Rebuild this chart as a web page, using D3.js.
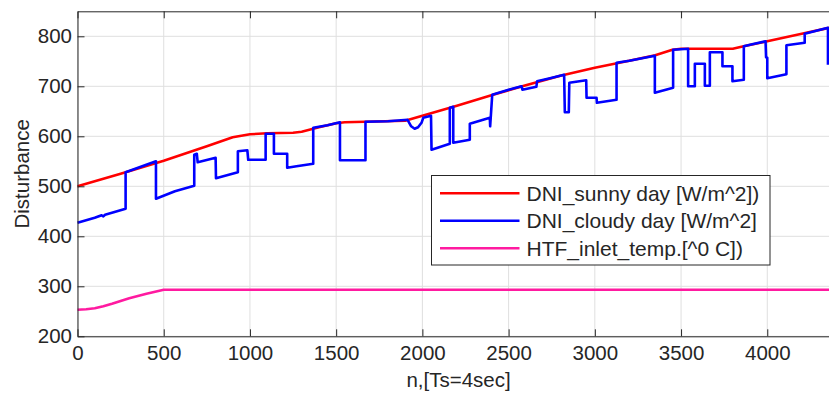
<!DOCTYPE html>
<html>
<head>
<meta charset="utf-8">
<script src="https://cdn.jsdelivr.net/npm/d3@7"></script>
<style>
  body { margin: 0; background: #fff; }
  svg { display: block; font-family: "Liberation Sans", Arial, sans-serif; }
</style>
</head>
<body>
<svg id="chart"></svg>
<script>
// values: [n, value]
const sunny = [[0,500],[250,525],[500,551],[750,580],[900,598],[1000,604],[1100,606],[1250,607],[1300,609],
  [1400,618],[1500,626],[1550,628],[1900,631],[2000,641],[2200,661],[2400,682],[2600,702],[2800,721],
  [3000,737],[3200,751],[3350,762],[3450,773],[3500,775],[3800,775],[3850,779],[4000,790],[4200,805],[4360,817]]

const cloudy = [[0,427],[100,437],[140,442],[150,440],[160,443],[279,455],[279,528],[455,550],[455,475],
  [565,490],[677,501],[677,563],[692,565],[697,548],[801,557],[803,516],[930,528],[930,570],[985,572],
  [990,553],[1091,553],[1091,605],[1139,605],[1139,565],[1216,565],[1216,537],[1270,540],[1367,545],
  [1367,617],[1450,622],[1522,628],[1522,552],[1670,552],[1670,629],[1800,630],[1914,633],[1935,620],
  [1955,615],[1975,618],[1995,627],[2005,637],[2050,641],[2053,573],[2159,585],[2159,657],[2179,659],
  [2179,587],[2275,593],[2275,625],[2391,637],[2393,620],[2405,683],[2500,693],[2575,700],[2580,693],
  [2661,699],[2665,710],[2740,716],[2822,723],[2826,648],[2849,648],[2852,707],[2950,712],[2952,677],
  [3010,677],[3012,667],[3126,673],[3126,747],[3200,751],[3348,761],[3348,687],[3454,697],[3454,773],
  [3541,775],[3541,700],[3580,700],[3580,745],[3638,745],[3638,701],[3667,701],[3667,768],[3740,768],
  [3740,740],[3798,740],[3798,710],[3864,713],[3864,780],[3900,783],[3990,790],[3993,758],[4000,757],
  [4000,716],[4111,724],[4111,782],[4217,787],[4217,805],[4352,817],[4352,743]]

const htf = [[0,253],[50,254],[100,256],[150,260],[200,265],[300,276],[400,285],[500,293],[4360,293]]

const xTicks = [0,500,1000,1500,2000,2500,3000,3500,4000]
const yTicks = [200,300,400,500,600,700,800]
const legendNames = ["DNI_sunny day [W/m^2])", "DNI_cloudy day [W/m^2]", "HTF_inlet_temp.[^0 C])"]
const colors = ["#ff0000", "#0000ff", "#ff1aa0"]

const width = 829, height = 393
const marginLeft = 77.5, marginTop = 11.3, plotBottom = 336.3
const fontSize = 20.5
const ink = "#262626"

const svg = d3.select("#chart").attr("width", width).attr("height", height)

const x = d3.scaleLinear([0, 4420], [marginLeft, 839.7])
const y = d3.scaleLinear([200, 850], [plotBottom, marginTop])

// grid
svg.append("g")
  .selectAll("line").data(xTicks).join("line")
    .attr("x1", d => x(d)).attr("x2", d => x(d))
    .attr("y1", marginTop).attr("y2", plotBottom)
    .attr("stroke", "#dfdfdf").attr("stroke-width", 1)
svg.append("g")
  .selectAll("line").data(yTicks).join("line")
    .attr("x1", marginLeft).attr("x2", width)
    .attr("y1", d => y(d)).attr("y2", d => y(d))
    .attr("stroke", "#dfdfdf").attr("stroke-width", 1)

// lines
const line = d3.line().x(d => x(d[0])).y(d => y(d[1]))
const series = [sunny, cloudy, htf]
svg.append("g")
  .attr("fill", "none")
  .attr("stroke-width", 2.6)
  .attr("stroke-linejoin", "round")
  .selectAll("path").data(series).join("path")
    .attr("stroke", (d, i) => colors[i])
    .attr("d", line)

// axes (MATLAB style: ticks pointing inward)
const yAxis = d3.axisLeft(y).tickValues(yTicks).tickSize(-7).tickPadding(5.5).tickSizeOuter(0)
const xAxis = d3.axisBottom(x).tickValues(xTicks).tickFormat(d3.format("d"))
  .tickSize(-7).tickPadding(9).tickSizeOuter(0)
const topAxis = d3.axisTop(x).tickValues(xTicks).tickSize(-7).tickFormat("").tickSizeOuter(0)

const styleAxis = g => {
  g.selectAll(".domain").attr("stroke", ink).attr("stroke-width", 1)
  g.selectAll(".tick line").attr("stroke", ink)
  g.selectAll(".tick text").attr("fill", ink).style("font-size", fontSize + "px")
}

svg.append("g").attr("transform", `translate(${marginLeft},0)`).call(yAxis).call(styleAxis)
svg.append("g").attr("transform", `translate(0,${plotBottom})`).call(xAxis).call(styleAxis)
svg.append("g").attr("transform", `translate(0,${marginTop})`).call(topAxis).call(styleAxis)

// axis labels
svg.append("text")
  .attr("x", (marginLeft + 839.7) / 2).attr("y", 387)
  .attr("text-anchor", "middle").attr("fill", ink)
  .style("font-size", fontSize + "px")
  .text("n,[Ts=4sec]")
svg.append("text")
  .attr("transform", `translate(29,${(marginTop + plotBottom) / 2}) rotate(-90)`)
  .attr("text-anchor", "middle").attr("fill", ink)
  .style("font-size", fontSize + "px")
  .text("Disturbance")

// legend
const legend = svg.append("g").attr("transform", "translate(431.5,175.5)")
legend.append("rect")
  .attr("width", 338.5).attr("height", 89.5)
  .attr("fill", "#fff").attr("stroke", ink).attr("stroke-width", 1)
const rows = legend.selectAll("g").data(legendNames).join("g")
  .attr("transform", (d, i) => `translate(0,${17.8 + i * 27.5})`)
rows.append("line")
  .attr("x1", 8.5).attr("x2", 88)
  .attr("stroke", (d, i) => colors[i]).attr("stroke-width", 2.6)
rows.append("text")
  .attr("x", 95).attr("dy", "0.35em")
  .attr("fill", ink).style("font-size", "21px")
  .text(d => d)
</script>
</body>
</html>
